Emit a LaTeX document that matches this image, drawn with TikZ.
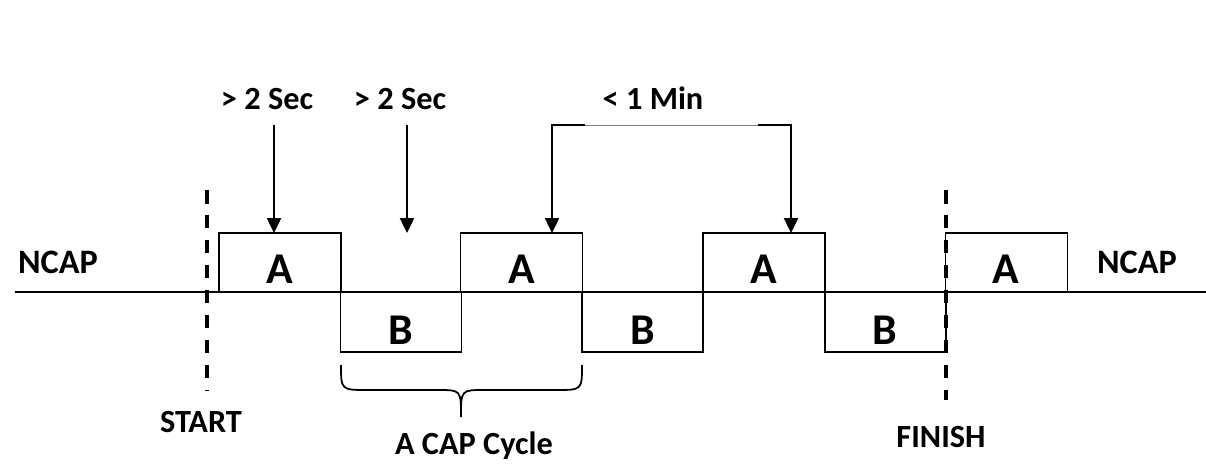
\documentclass[tikz,border=0pt]{standalone}
\usepackage{fontspec}
\setmainfont{Carlito}
\usetikzlibrary{arrows.meta}
\begin{document}
\begin{tikzpicture}[x=0.02cm,y=-0.02cm,
  lbl/.style={font=\bfseries\fontsize{18.4}{20}\selectfont,anchor=base,inner sep=0},
  big/.style={font=\bfseries\fontsize{25}{27}\selectfont,anchor=base,inner sep=0},
  abox/.style={draw,line width=1pt,minimum width=2.44cm,minimum height=1.18cm,inner sep=0},
  bbox/.style={draw,line width=1pt,minimum width=2.42cm,minimum height=1.2cm,inner sep=0},
  arr/.style={line width=1.4pt,-{Triangle[length=0.3cm,width=0.28cm]}},
  mark line/.style={line width=2.4pt,dash pattern=on 0.27cm off 0.23cm}]
\useasboundingbox (0,0) rectangle (1206,463);
% timeline
\coordinate (L0) at (15,292);
\coordinate (L1) at (1206,292);
\draw[line width=1.1pt] (L0) -- (L1);
% A boxes
\node[abox] (A1) at (280,262.5) {};
\node[abox] (A2) at (521.5,262.5) {};
\node[abox] (A3) at (764,262.5) {};
\node[abox] (A4) at (1006.5,262.5) {};
% B boxes
\node[bbox] (B1) at (401,322) {};
\node[bbox] (B2) at (642.5,322) {};
\node[bbox] (B3) at (885.5,322) {};
% box letters
\node[big] (tA1) at (280,283) {A};
\node[big] (tA2) at (522,283) {A};
\node[big] (tA3) at (764,283) {A};
\node[big] (tA4) at (1006,283) {A};
\node[big] (tB1) at (401,344) {B};
\node[big] (tB2) at (643,344) {B};
\node[big] (tB3) at (885,344) {B};
% side labels
\node[lbl,font=\bfseries\fontsize{19.5}{21}\selectfont] (n1) at (58,273) {NCAP};
\node[lbl,font=\bfseries\fontsize{19.5}{21}\selectfont] (n2) at (1137,273) {NCAP};
% start / finish
\coordinate (S0) at (207,190);
\coordinate (S1) at (207,391);
\draw[mark line] (S0) -- (S1);
\coordinate (F0) at (946,190);
\coordinate (F1) at (946,400);
\draw[mark line] (F0) -- (F1);
\node[lbl] (start) at (201,432) {START};
\node[lbl] (finish) at (941,447) {FINISH};
% > 2 Sec arrows
\node[lbl] (s1) at (267,109) {> 2 Sec};
\node[lbl] (s2) at (400,109) {> 2 Sec};
\coordinate (p1) at (274,125);
\coordinate (q1) at (274,233);
\coordinate (p2) at (407,125);
\coordinate (q2) at (407,233);
\draw[arr] (p1) -- (q1);
\draw[arr] (p2) -- (q2);
% < 1 Min bracket
\node[lbl] (m) at (653,109) {< 1 Min};
\coordinate (m0) at (552,233);
\coordinate (m1) at (552,125);
\coordinate (m2) at (585,125);
\coordinate (m3) at (758,125);
\coordinate (m4) at (791,125);
\coordinate (m5) at (791,233);
\draw[line width=0.4pt,gray] (m2) -- (m3);
\draw[arr] (m2) -- (m1) -- (m0);
\draw[arr] (m3) -- (m4) -- (m5);
% brace
\coordinate (b0) at (341,365);
\coordinate (bt) at (461,417);
\coordinate (b1) at (582,365);
\draw[line width=1pt] (b0) .. controls (341,390) .. (368,390) -- (438,390)
  .. controls (461,390) .. (bt) .. controls (461,390) .. (484,390) -- (556,390)
  .. controls (582,390) .. (b1);
\node[lbl] (cyc) at (474,454) {A CAP Cycle};
\end{tikzpicture}
\end{document}
